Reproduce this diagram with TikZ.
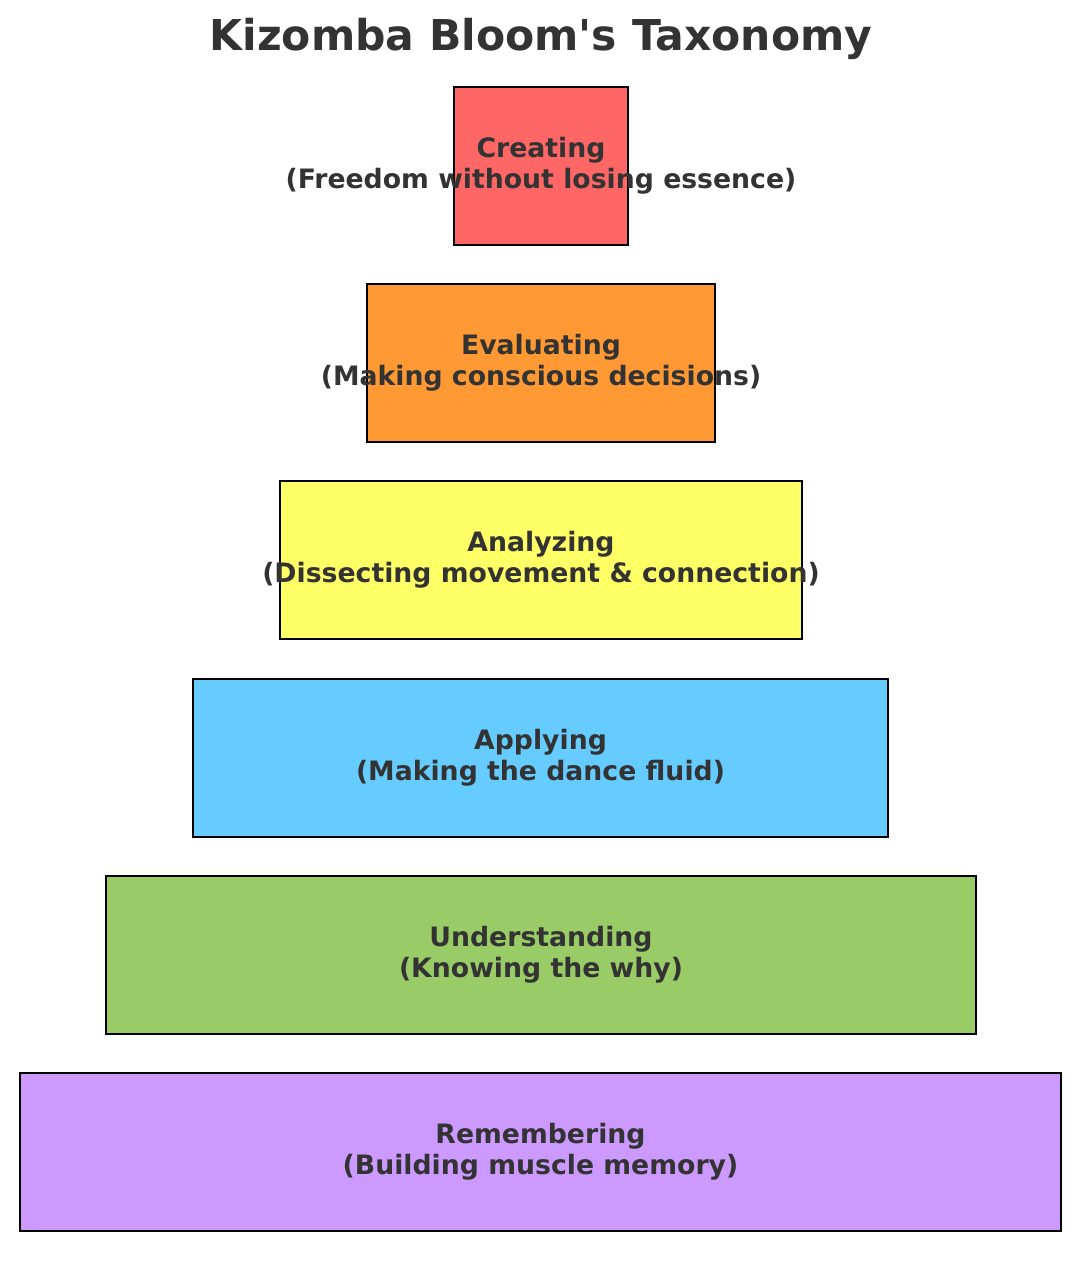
\documentclass[tikz,border=0pt]{standalone}
\usepackage{fontspec}
\setmainfont{DejaVu Sans}[Ligatures=TeXOff]
\definecolor{txt}{HTML}{333333}
\definecolor{cred}{HTML}{FF6666}
\definecolor{corange}{HTML}{FF9933}
\definecolor{cyellow}{HTML}{FFFF66}
\definecolor{cblue}{HTML}{66CCFF}
\definecolor{cgreen}{HTML}{99CC66}
\definecolor{cpurple}{HTML}{CC99FF}
\begin{document}
\begin{tikzpicture}[x=1pt,y=-1pt,
  level/.style={draw=black, line width=2pt, inner sep=0pt, minimum height=158pt, rectangle},
  lbl/.style={text=txt, align=center, inner sep=0pt, font=\fontsize{26.7}{31}\selectfont\bfseries},
  ttl/.style={text=txt, inner sep=0pt, font=\fontsize{42.5}{50}\selectfont\bfseries}]
\useasboundingbox[fill=white] (0,0) rectangle (1080,1265);
\node[ttl] (title) at (541,39) {Kizomba Bloom's Taxonomy};
\node[level, fill=cred, minimum width=174pt] (b1) at (541,166) {};
\node[level, fill=corange, minimum width=348pt] (b2) at (541,363) {};
\node[level, fill=cyellow, minimum width=522pt] (b3) at (541,560) {};
\node[level, fill=cblue, minimum width=695pt] (b4) at (540.5,758) {};
\node[level, fill=cgreen, minimum width=870pt] (b5) at (541,955) {};
\node[level, fill=cpurple, minimum width=1041pt] (b6) at (540.5,1152) {};
\node[lbl] (t1) at (b1.center) {Creating\\(Freedom without losing essence)};
\node[lbl] (t2) at (b2.center) {Evaluating\\(Making conscious decisions)};
\node[lbl] (t3) at (b3.center) {Analyzing\\(Dissecting movement \& connection)};
\node[lbl] (t4) at (b4.center) {Applying\\(Making the dance fluid)};
\node[lbl] (t5) at (b5.center) {Understanding\\(Knowing the why)};
\node[lbl] (t6) at (b6.center) {Remembering\\(Building muscle memory)};
\end{tikzpicture}
\end{document}
